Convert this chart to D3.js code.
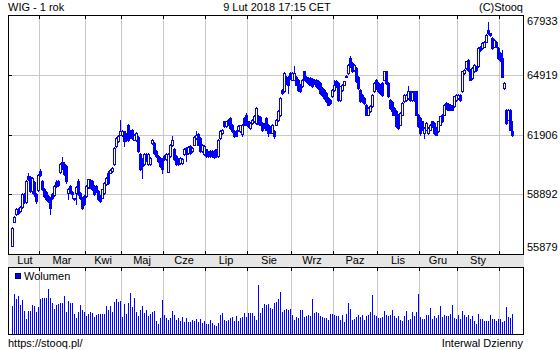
<!DOCTYPE html>
<html>
<head>
<meta charset="utf-8">
<script src="https://cdn.jsdelivr.net/npm/d3@7"></script>
<style>
body { margin: 0; background: #fff; }
text { font-family: "Liberation Sans", Arial, sans-serif; font-size: 11px; fill: #000; }
</style>
</head>
<body>
<div id="chart"></div>
<script>
// WIG, 1 year of daily candles (9 Feb 2017 - 9 Feb 2018)
var open = [
56290,57500,57900,58150,58050,58250,58880,58500,59800,59750,
59050,59500,58900,59100,60050,59550,59150,59000,58800,58700,
58890,58850,59500,59550,60000,60500,60400,60300,58970,59300,
59000,58680,58970,59560,58970,58720,58800,58800,59270,59600,
59560,59300,59300,59050,58800,58720,58970,59390,59980,59980,
60060,60400,61320,61570,61900,61900,62070,61980,62400,62100,
62150,61650,61650,61780,60900,60650,60400,60900,60400,60400,
61480,61480,61070,60810,60730,60650,60810,60650,60030,60810,
61400,61150,60810,60650,60450,60450,60900,61230,60980,61320,
61070,61400,61740,61950,61740,61070,60900,61150,61010,61070,
61070,61070,61150,60810,61740,61990,62570,62320,62660,62740,
62400,62070,62070,62120,62070,61950,62740,62910,62570,62240,
62490,62570,62490,62830,62790,62490,62450,62740,62400,62300,
62000,62070,62400,62650,62900,64160,64080,64830,64830,65000,
64670,64670,64830,64670,64420,64330,65090,64830,64750,64750,
64700,64670,64670,64600,64500,64250,64160,64000,63750,63660,
63830,64160,64580,64500,63660,64160,64420,64830,65000,65760,
65500,65170,65250,64830,64160,63910,63750,63410,62910,63080,
63330,64080,64670,64500,64420,64500,64670,65090,64500,63660,
63540,63240,63080,62910,62410,62910,63580,63660,63750,64080,
63660,64080,64080,62910,62740,62570,61990,62150,61990,62150,
62570,62490,62240,62070,62410,62910,62910,63490,63440,63410,
63330,63330,63660,63750,63910,64080,65000,65250,65670,65170,
64750,65090,65340,65340,66340,66260,66340,66590,67180,67010,
66760,66340,66590,66260,66010,65760,64250,63160,62660,63160,
62070
];
var high = [
57250,57780,58200,58200,58300,58950,58950,59600,59970,59800,
59750,59550,58950,59900,60150,59600,59200,59050,58850,58750,
58950,59350,59600,59600,60450,60750,60500,60350,59200,59350,
59050,58700,59320,59640,59000,58750,58850,59350,59680,59650,
59600,59350,59350,59100,58850,59180,59500,59780,60050,60180,
60280,61260,61760,61880,62650,62120,62100,62000,62450,62150,
62200,61950,62050,61820,60950,60700,60950,60950,60950,60780,
61700,61520,61100,60850,60770,60700,60850,60950,60950,61450,
61820,61200,60850,60700,60780,60700,61220,61280,61320,61360,
61270,61830,62100,62000,61780,61440,61360,61190,61050,61110,
61110,61110,61190,61690,62110,62190,62610,62610,62700,62780,
62440,62110,62110,62360,62410,62440,62780,62990,62610,62530,
62700,62870,63280,62870,62830,62530,62490,62780,62440,62340,
62440,62110,62690,63140,63790,64200,65040,64870,64870,65040,
65040,65370,64870,64710,64460,64710,65130,64870,64790,64790,
64740,64710,64710,64640,64540,64290,64200,64040,63790,63700,
64200,64670,64670,64540,64370,64460,64620,64900,65460,65840,
65540,65460,65290,64870,64200,63950,63790,63450,63280,63370,
63950,64540,64710,64540,64460,64540,65130,65130,64540,63700,
63580,63280,63120,62950,63030,63530,63950,63950,64360,64120,
64080,64120,64120,62950,62780,62610,62280,62530,62280,62450,
62610,62530,62280,62610,62860,62950,63450,63530,63480,63450,
63370,63870,63950,63950,63950,65130,65210,65630,65710,65210,
65290,65460,65380,66300,66380,66550,66630,66970,67600,67050,
66800,66720,66630,66300,66050,66170,64540,63200,63200,63200,
62570
];
var low = [
56270,57480,57850,57880,58000,58200,58450,58450,59600,59000,
58980,58800,58470,59050,59800,59100,58750,58600,58500,57880,
58650,58800,59250,59300,59950,60150,59850,59470,58650,58950,
58700,58600,58390,58850,58650,58150,58350,58750,59220,59200,
59100,58850,59000,58600,58500,58680,58930,59350,59430,59950,
60020,60380,61300,61540,61880,61850,61320,61600,61600,61750,
61700,61620,61600,61030,60100,59730,60350,60550,60350,60350,
61450,60940,60770,60520,60270,59980,60600,60600,59990,60770,
61350,60600,60350,60350,60400,60400,60850,60560,60940,60940,
61030,61360,61700,61360,61030,61030,60860,60770,60770,60770,
60770,60740,60770,60770,61700,61950,62280,62280,62360,62200,
62030,61780,61810,62080,62030,61820,62360,62360,62280,62200,
62450,62530,62450,62420,62370,62070,62250,62110,61820,61960,
61960,61740,62360,62610,62860,63960,64040,64460,64000,64710,
64630,64630,64380,64120,64040,64290,64630,64540,64460,64380,
64290,64460,64290,64210,63960,63870,63710,63540,63370,63460,
63790,64120,64290,63620,63620,64120,64380,64800,64960,65300,
65050,65130,64540,64210,63540,63540,63460,62870,62870,63040,
63290,64040,64210,64040,63960,63870,64630,64460,63790,63200,
62910,62870,62280,62200,62370,62870,63540,63620,63710,63620,
63620,63620,62870,62280,61900,62110,61740,62110,61950,62110,
62280,61950,61860,62030,62370,62530,62870,63200,63120,63120,
63120,63290,63620,63710,63620,64040,64960,65210,65130,64630,
64710,65050,65130,65300,66130,66220,66300,66550,66970,66890,
66220,66300,66300,65720,65630,64790,64210,62450,62620,62110,
61820
];
var close = [
57210,57750,58150,57950,58250,58880,58500,59550,59650,59050,
59700,58900,58550,59850,59850,59150,58800,58650,58550,58200,
58700,59300,59300,59350,60400,60200,59900,59560,59140,59000,
58900,58640,59280,58900,58700,58220,58380,59300,59640,59230,
59140,58900,59050,58640,58550,59140,59470,59730,59480,60140,
60230,61230,61730,61850,62070,62070,61570,61650,61650,61800,
61740,61900,62000,61070,60150,60310,60900,60600,60900,60730,
61650,60980,60810,60560,60310,60150,60650,60900,60900,61400,
61650,60650,60400,60400,60730,60650,61180,60900,61280,60980,
61230,61790,61900,61400,61070,61400,61320,60810,60810,60810,
60810,60780,60810,61650,62070,62150,62320,62570,62400,62240,
62070,61820,61850,62320,62370,62400,62400,62400,62320,62490,
62660,62830,63240,62460,62410,62150,62290,62150,61990,62000,
62400,61820,62650,63100,63750,64000,65000,64500,64420,64750,
65000,65000,64420,64160,64080,64670,64670,64580,64500,64420,
64330,64500,64330,64250,64000,63910,63750,63580,63410,63500,
64160,64420,64330,63660,64330,64420,64580,64860,65420,65340,
65090,65420,64580,64250,63580,63580,63500,62910,63240,63330,
63910,64500,64250,64080,64000,63910,65090,64500,63830,63240,
63080,62910,62320,62240,62990,63490,63910,63910,64080,63660,
64040,63660,62910,62320,61990,62150,62240,62490,62240,62410,
62320,61990,61900,62570,62820,62570,63410,63240,63160,63160,
63160,63830,63910,63910,63660,65090,65170,65590,65170,64670,
65250,65420,65170,66260,66170,66510,66590,66930,67010,66930,
66260,66680,66340,65760,65670,64830,64500,62490,63160,62150,
61900
];
// daily turnover, mln PLN
var volume = [
840,1200,1050,1120,870,1020,700,450,700,700,
870,840,670,820,1050,1080,1080,1080,1330,1080,
920,760,870,900,920,920,1140,660,990,920,
920,590,470,670,870,720,670,550,590,650,
620,520,570,590,590,590,590,840,720,840,
670,950,1050,970,990,520,890,590,920,1230,
820,1080,670,550,720,840,620,720,550,590,
650,690,390,290,490,1020,570,490,420,490,
690,570,420,490,390,510,350,490,350,350,
420,390,450,350,450,320,390,290,290,420,
320,270,250,320,570,620,420,390,420,470,
520,390,550,390,490,520,620,520,620,620,
620,550,420,1470,620,790,890,870,900,790,
760,920,950,1050,1260,660,720,760,730,760,
570,420,510,490,730,730,520,550,570,550,
1050,630,670,630,540,500,480,480,420,600,
600,570,540,540,420,570,350,600,940,750,
420,440,510,570,510,570,430,540,570,660,
1170,570,540,480,480,510,690,570,540,570,
730,540,480,540,420,390,550,690,420,450,
660,540,660,1200,500,450,450,570,570,780,
450,540,480,570,840,510,570,540,540,600,
870,480,450,570,450,690,570,510,570,450,
540,390,290,600,450,450,390,390,390,560,
450,450,390,450,450,370,390,820,520,490,
600
];
// trading days in each month on the chart
var monthNames = ["Lut","Mar","Kwi","Maj","Cze","Lip","Sie","Wrz","Paz","Lis","Gru","Sty",""];
var monthDays = [14,23,18,21,21,21,22,21,22,21,19,21,7];
var yTicks = [55879,58892,61906,64919,67933];

var W = 560, H = 350;
var pLeft = 8, pRight = 523, pTop = 15, pBottom = 254;
var volTop = 267, volBottom = 334;
var blue = "#0000ff", grid = "#c8c8c8";

var n = Math.min(open.length, high.length, low.length, close.length);

var svg = d3.select("#chart").append("svg")
    .attr("width", W).attr("height", H)
    .attr("shape-rendering", "crispEdges");

var x = d3.scaleLinear().domain([0, 250]).range([12, 512]);
var y = d3.scaleLinear().domain([55879, 67933]).range([pBottom, pTop]);
var yv = d3.scaleLinear().domain([0, 2000]).range([volBottom, volTop]);

// month boundaries
var starts = [], s = 0;
monthDays.forEach(function (d) { starts.push(s); s += d; });
var bounds = starts.slice(1).map(function (i) { return Math.round(x(i)) - 1 + 0.5; });

// axis band between panels
svg.append("rect")
    .attr("x", pLeft).attr("y", pBottom)
    .attr("width", pRight - pLeft + 1).attr("height", volTop - pBottom)
    .attr("fill", "#e6e6e6");

// grid, main panel
svg.append("g").selectAll("line").data(yTicks).enter().append("line")
    .attr("x1", pLeft).attr("x2", pRight)
    .attr("y1", function (d) { return Math.round(y(d)) + 0.5; })
    .attr("y2", function (d) { return Math.round(y(d)) + 0.5; })
    .attr("stroke", grid);
svg.append("g").selectAll("line").data(bounds).enter().append("line")
    .attr("x1", function (d) { return d; }).attr("x2", function (d) { return d; })
    .attr("y1", pTop).attr("y2", pBottom)
    .attr("stroke", grid);
// grid, volume panel
svg.append("g").selectAll("line").data(bounds).enter().append("line")
    .attr("x1", function (d) { return d; }).attr("x2", function (d) { return d; })
    .attr("y1", volTop).attr("y2", volBottom)
    .attr("stroke", grid);

// candles
var idx = d3.range(n);
var cg = svg.append("g");
idx.forEach(function (i) {
    var c = Math.round(x(i));
    var yo = Math.round(y(open[i])), yc = Math.round(y(close[i]));
    cg.append("line")
        .attr("x1", c + 0.5).attr("x2", c + 0.5)
        .attr("y1", Math.round(y(high[i]))).attr("y2", Math.round(y(low[i])) + 1)
        .attr("stroke", blue);
    if (close[i] >= open[i]) {
        cg.append("rect")
            .attr("x", c - 0.5).attr("y", yc + 0.5)
            .attr("width", 2).attr("height", Math.max(yo - yc, 1))
            .attr("fill", "#fff").attr("stroke", blue);
    } else {
        cg.append("rect")
            .attr("x", c - 1).attr("y", yo)
            .attr("width", 3).attr("height", Math.max(yc - yo, 1) + 1)
            .attr("fill", blue);
    }
});

// volume bars
svg.append("g").selectAll("line").data(volume.slice(0, n)).enter().append("line")
    .attr("x1", function (d, i) { return Math.round(x(i)) + 0.5; })
    .attr("x2", function (d, i) { return Math.round(x(i)) + 0.5; })
    .attr("y1", volBottom)
    .attr("y2", function (d) { return Math.round(yv(d)); })
    .attr("stroke", blue);

// frames
svg.append("rect")
    .attr("x", pLeft + 0.5).attr("y", pTop + 0.5)
    .attr("width", pRight - pLeft).attr("height", pBottom - pTop)
    .attr("fill", "none").attr("stroke", "#000");
svg.append("rect")
    .attr("x", pLeft + 0.5).attr("y", volTop + 0.5)
    .attr("width", pRight - pLeft).attr("height", volBottom - volTop)
    .attr("fill", "none").attr("stroke", "#000");

// small tick marks
var ticks = svg.append("g").attr("stroke", "#000");
bounds.forEach(function (b) {
    ticks.append("line").attr("x1", b).attr("x2", b).attr("y1", pTop).attr("y2", pTop + 4);
    ticks.append("line").attr("x1", b).attr("x2", b).attr("y1", pBottom - 3).attr("y2", pBottom + 1);
    ticks.append("line").attr("x1", b).attr("x2", b).attr("y1", volTop).attr("y2", volTop + 4);
});
yTicks.forEach(function (t) {
    var yy = Math.round(y(t)) + 0.5;
    ticks.append("line").attr("x1", pLeft).attr("x2", pLeft + 4).attr("y1", yy).attr("y2", yy);
});

// month labels
svg.append("g").selectAll("text").data(monthNames).enter().append("text")
    .attr("x", function (d, k) {
        var a = starts[k], b = k + 1 < starts.length ? starts[k + 1] : n;
        return Math.round(x((a + b) / 2)) - 1;
    })
    .attr("y", 264)
    .attr("text-anchor", "middle")
    .text(function (d) { return d; });

// price labels
svg.append("g").selectAll("text").data(yTicks).enter().append("text")
    .attr("x", pRight + 4)
    .attr("y", function (d) { return Math.min(Math.max(Math.round(y(d)) + 4, 25), 251); })
    .text(function (d) { return d; });

// header and footer
svg.append("text").attr("x", pLeft).attr("y", 11).text("WIG - 1 rok");
svg.append("text").attr("x", 277).attr("y", 11).attr("text-anchor", "middle").text("9 Lut 2018 17:15 CET");
svg.append("text").attr("x", pRight).attr("y", 11).attr("text-anchor", "end").text("(C)Stooq");
svg.append("text").attr("x", pLeft).attr("y", 347).text("https://stooq.pl/");
svg.append("text").attr("x", pRight).attr("y", 347).attr("text-anchor", "end").text("Interwal Dzienny");

// legend
svg.append("rect")
    .attr("x", 15.5).attr("y", 273.5).attr("width", 5).attr("height", 5)
    .attr("fill", blue).attr("stroke", "#000040");
svg.append("text").attr("x", 24).attr("y", 280).text("Wolumen");
</script>
</body>
</html>
